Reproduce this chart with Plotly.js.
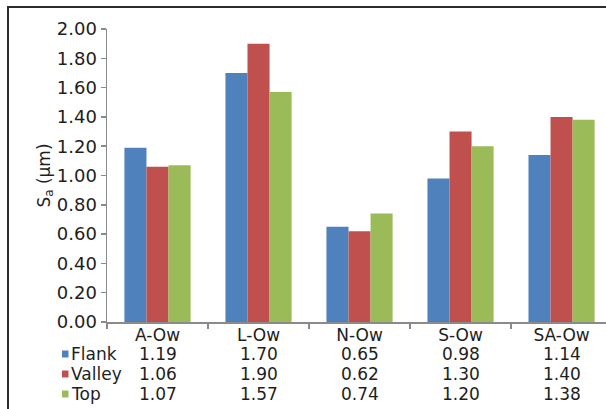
<!DOCTYPE html>
<html>
<head>
<meta charset="utf-8">
<script src="https://cdn.plot.ly/plotly-3.0.1.min.js"></script>
<style>
  html, body { margin: 0; padding: 0; background: #fff; }
  #wrap { position: relative; width: 606px; height: 409px; overflow: hidden; }
  #chart { position: absolute; left: 0; top: 0; width: 606px; height: 409px; }
  #frame { position: absolute; left: 7px; top: 6px; width: 620px; height: 420px;
           border-top: 2px solid #2b2b2b; border-left: 2px solid #2b2b2b; pointer-events: none; }
</style>
</head>
<body>
<div id="wrap">
  <div id="chart"></div>
  <div id="frame"></div>
</div>
<script>
// Surface roughness Sa per sample and measuring location
const categories = ['A-Ow', 'L-Ow', 'N-Ow', 'S-Ow', 'SA-Ow'];
const seriesNames = ['Flank', 'Valley', 'Top'];
const flank  = [1.19, 1.70, 0.65, 0.98, 1.14];
const valley = [1.06, 1.90, 0.62, 1.30, 1.40];
const top_   = [1.07, 1.57, 0.74, 1.20, 1.38];
const yTicks = [0, 0.2, 0.4, 0.6, 0.8, 1.0, 1.2, 1.4, 1.6, 1.8, 2.0];

const seriesValues = [flank, valley, top_];
const colors = ['#4F81BD', '#C0504D', '#9BBB59'];
const FONT = 'DejaVu Sans, sans-serif';
const TXT = '#1e1e1e';
const FS = 17;

const W = 606, H = 409;
const margin = { l: 107, r: 0, t: 29, b: 87 };
const plotW = W - margin.l - margin.r;
const plotH = H - margin.t - margin.b;
// pixel helpers for the data table under the axis
const px2paperX = px => (px - margin.l) / plotW;
const px2paperY = py => (H - margin.b - py) / plotH;

const traces = seriesNames.map((name, i) => ({
  type: 'bar',
  name: name,
  x: categories,
  y: seriesValues[i],
  marker: { color: colors[i], line: { width: 0 } },
  hoverinfo: 'x+y+name'
}));

// data table: legend keys, series names and values
const rowY = [354, 374, 394];
const annotations = [];
const shapes = [];
seriesNames.forEach((name, i) => {
  const yp = px2paperY(rowY[i]);
  annotations.push({
    xref: 'paper', yref: 'paper', x: px2paperX(69), y: yp,
    xanchor: 'left', yanchor: 'middle', showarrow: false,
    text: name, font: { family: FONT, size: FS, color: TXT }
  });
  shapes.push({
    type: 'rect', xref: 'paper', yref: 'paper',
    x0: px2paperX(62), x1: px2paperX(68.5),
    y0: px2paperY(rowY[i] + 3.5), y1: px2paperY(rowY[i] - 3.5),
    fillcolor: colors[i], line: { width: 0 }
  });
  categories.forEach((c, j) => {
    annotations.push({
      xref: 'x', yref: 'paper', x: c, y: yp,
      xanchor: 'center', yanchor: 'middle', showarrow: false,
      text: seriesValues[i][j].toFixed(2),
      font: { family: FONT, size: FS, color: TXT }
    });
  });
});

const layout = {
  width: W, height: H,
  margin: margin,
  paper_bgcolor: '#ffffff',
  plot_bgcolor: '#ffffff',
  showlegend: false,
  barmode: 'group',
  bargap: 0.345,
  bargroupgap: 0,
  font: { family: FONT, size: FS, color: TXT },
  xaxis: {
    type: 'category',
    range: [-0.5, 4.44],
    showline: true, linecolor: '#8a8a8a', linewidth: 1.5,
    ticks: 'outside', tickson: 'boundaries', ticklen: 5, tickcolor: '#8a8a8a', tickwidth: 1.5,
    showgrid: false, zeroline: false,
    tickfont: { family: FONT, size: FS, color: TXT },
    ticklabelstandoff: -3
  },
  yaxis: {
    range: [0, 2.0],
    tickvals: yTicks,
    ticktext: yTicks.map(v => v.toFixed(2)),
    showline: true, linecolor: '#8a8a8a', linewidth: 1.5,
    ticks: 'outside', ticklen: 5, tickcolor: '#8a8a8a', tickwidth: 1.5,
    showgrid: false, zeroline: false,
    tickfont: { family: FONT, size: 18, color: TXT },
    title: { text: 'S<sub>a</sub> (µm)', font: { family: FONT, size: FS, color: TXT }, standoff: 2 }
  },
  annotations: annotations,
  shapes: shapes
};

Plotly.newPlot('chart', traces, layout, { displayModeBar: false, staticPlot: true });
</script>
</body>
</html>
